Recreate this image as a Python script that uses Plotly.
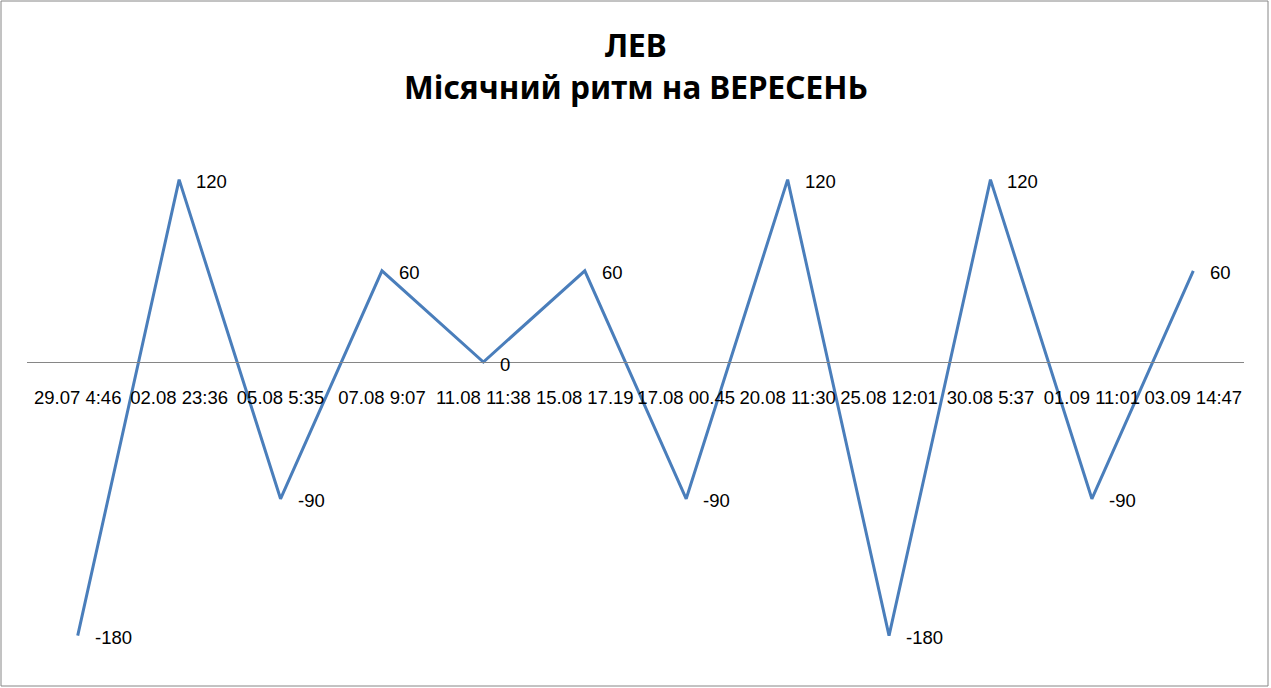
import plotly.graph_objs as go

# moon rhythm data for LEO, September
dates = ['29.07 4:46', '02.08 23:36', '05.08 5:35', '07.08 9:07', '11.08 11:38',
         '15.08 17.19', '17.08 00.45', '20.08 11:30', '25.08 12:01', '30.08 5:37',
         '01.09 11:01', '03.09 14:47']
values = [-180, 120, -90, 60, 0, 60, -90, 120, -180, 120, -90, 60]

titleLines = ['ЛЕВ', 'Місячний ритм на ВЕРЕСЕНЬ']

ymin, ymax = -200, 150
lineColor = '#4a7ebb'
labelFont = dict(family='Liberation Sans, Arial', size=18.5, color='black')

W, H = 1271, 688
L, R, T, B = 27, 27, 134, 22
plotW, plotH = W - L - R, H - T - B

myFigure = go.Figure()
myFigure.add_trace(go.Scatter(x=dates, y=values, mode='lines',
                              line=dict(color=lineColor, width=3),
                              hoverinfo='x+y', showlegend=False))

# data labels to the right of each point
for d, v in zip(dates, values):
    myFigure.add_annotation(x=d, y=v, text=str(v), showarrow=False,
                            xanchor='left', yanchor='middle', xshift=15, yshift=-2,
                            font=labelFont)

# two-line title as annotations (pixel positions)
for txt, yc in zip(titleLines, [45, 87]):
    myFigure.add_annotation(xref='paper', yref='paper', x=(W / 2 - L) / plotW,
                            y=(H - B - yc) / plotH, text='<b>' + txt + '</b>',
                            showarrow=False, xanchor='center', yanchor='middle',
                            font=dict(family='Noto Sans', size=31.5, color='black'))

zeroPos = (0 - ymin) / (ymax - ymin)

myFigure.update_layout(
    width=W, height=H,
    margin=dict(l=L, r=R, t=T, b=B, autoexpand=False),
    paper_bgcolor='white', plot_bgcolor='white',
    xaxis=dict(type='category', range=[-0.5, len(dates) - 0.5], automargin=False,
               anchor='free', position=zeroPos,
               showline=True, linecolor='#868686', linewidth=1,
               showgrid=False, zeroline=False,
               ticks='outside', ticklen=19, tickcolor='rgba(0,0,0,0)',
               tickfont=labelFont, tickangle=0),
    yaxis=dict(range=[ymin, ymax], visible=False, showgrid=False, zeroline=False,
               automargin=False),
)

# outer chart border
myFigure.add_shape(type='rect', xref='paper', yref='paper',
                   x0=(1 - L) / plotW, x1=(W - 3 - L) / plotW,
                   y0=(H - B - 686) / plotH, y1=(H - B - 1) / plotH,
                   line=dict(color='#868686', width=1), fillcolor='rgba(0,0,0,0)', layer='below')

# drop the default page margin so the chart sits at the top-left corner
myFigure.write_html("out.html", config={'displayModeBar': False},
                    post_script="document.body.style.margin='0';")
